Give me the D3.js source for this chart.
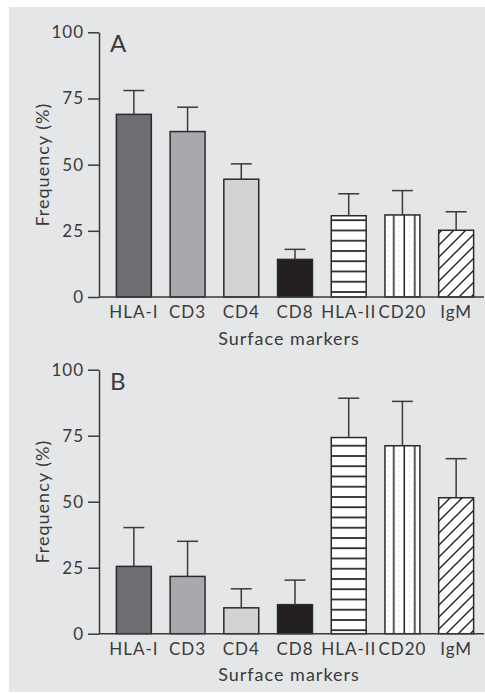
<!DOCTYPE html>
<html>
<head>
<meta charset="utf-8">
<script src="https://cdn.jsdelivr.net/npm/d3@7"></script>
<style>
  html, body { margin: 0; padding: 0; background: #ffffff; }
  svg { display: block; }
  text { font-family: Lato, "Open Sans", sans-serif; fill: #3a3a3a; }
</style>
</head>
<body>
<svg id="chart" width="485" height="694"></svg>
<script>
// Surface marker categories shared by both panels
const markers = ["HLA-I", "CD3", "CD4", "CD8", "HLA-II", "CD20", "IgM"];

// Panel A: mean frequency (%) and upper error value
const meanA = [69, 62.5, 44.5, 14.2, 30.7, 31, 25.2];
const errA  = [78, 71.7, 50.3, 18, 39, 40.2, 32.2];

// Panel B: mean frequency (%) and upper error value
const meanB = [25.5, 21.7, 9.8, 11, 74.3, 71.2, 51.5];
const errB  = [40.2, 35, 17, 20.3, 89.2, 88, 66.3];

const yTicks = [0, 25, 50, 75, 100];
const fills = ["#6d6e71", "#a7a9ac", "#d1d3d4", "#231f20", "url(#hstripe)", "url(#vstripe)", "url(#diag)"];

const svg = d3.select("#chart");

// light gray page panel
svg.append("rect").attr("x", 9).attr("y", 7).attr("width", 476).attr("height", 685).attr("fill", "#e5e6e7");

// fill patterns
const defs = svg.append("defs");
const h = defs.append("pattern").attr("id", "hstripe").attr("patternUnits", "userSpaceOnUse")
  .attr("width", 10).attr("height", 10.25).attr("y", 4);
h.append("rect").attr("width", 10).attr("height", 10.25).attr("fill", "#fff");
h.append("line").attr("x1", 0).attr("x2", 10).attr("y1", 1).attr("y2", 1).attr("stroke", "#2a2a2a").attr("stroke-width", 1.8);

const v = defs.append("pattern").attr("id", "vstripe").attr("patternUnits", "userSpaceOnUse")
  .attr("width", 10.5).attr("height", 10).attr("x", 0.3);
v.append("rect").attr("width", 10.5).attr("height", 10).attr("fill", "#fff");
v.append("line").attr("x1", 5).attr("x2", 5).attr("y1", 0).attr("y2", 10).attr("stroke", "#2a2a2a").attr("stroke-width", 1.6);
v.append("line").attr("x1", 10.2).attr("x2", 10.2).attr("y1", 0).attr("y2", 10).attr("stroke", "#c8c8c8").attr("stroke-width", 0.6).attr("stroke-dasharray", "2,3");

const dg = defs.append("pattern").attr("id", "diag").attr("patternUnits", "userSpaceOnUse")
  .attr("width", 12).attr("height", 12);
dg.append("rect").attr("width", 12).attr("height", 12).attr("fill", "#fff");
dg.append("path").attr("d", "M-3,3 L3,-3 M0,12 L12,0 M9,15 L15,9").attr("stroke", "#2a2a2a").attr("stroke-width", 1.5);

const x = d3.scaleBand().domain(markers).range([107, 483]).paddingInner(0.35).paddingOuter(0.175);

function panel(letter, means, errs, top, bottom) {
  const g = svg.append("g");
  const y = d3.scaleLinear().domain([0, 100]).range([bottom, top]);

  // y axis
  const ya = g.append("g").attr("transform", "translate(99,0)")
    .call(d3.axisLeft(y).tickValues(yTicks).tickSize(11).tickSizeOuter(0).tickPadding(4));
  ya.select(".domain").attr("stroke", "#3a3a3a").attr("stroke-width", 1.5);
  ya.selectAll(".tick line").attr("stroke", "#3a3a3a").attr("stroke-width", 1.5);
  ya.selectAll(".tick text").attr("font-size", 17).attr("font-family", "Lato, sans-serif")
    .attr("fill", "#3a3a3a").attr("letter-spacing", 1);

  // bars
  g.selectAll(".bar").data(markers).enter().append("rect")
    .attr("x", d => x(d))
    .attr("y", (d, i) => y(means[i]))
    .attr("width", x.bandwidth())
    .attr("height", (d, i) => y(0) - y(means[i]))
    .attr("fill", (d, i) => fills[i])
    .attr("stroke", "#2a2a2a").attr("stroke-width", 1.5);

  // upper error bars
  const eb = g.selectAll(".err").data(markers).enter().append("g");
  eb.append("line")
    .attr("x1", d => x(d) + x.bandwidth() / 2).attr("x2", d => x(d) + x.bandwidth() / 2)
    .attr("y1", (d, i) => y(means[i])).attr("y2", (d, i) => y(errs[i]))
    .attr("stroke", "#3a3a3a").attr("stroke-width", 1.5);
  eb.append("line")
    .attr("x1", d => x(d) + x.bandwidth() / 2 - 10.5).attr("x2", d => x(d) + x.bandwidth() / 2 + 10.5)
    .attr("y1", (d, i) => y(errs[i])).attr("y2", (d, i) => y(errs[i]))
    .attr("stroke", "#3a3a3a").attr("stroke-width", 1.5);

  // x axis baseline and category labels
  g.append("line").attr("x1", 99).attr("x2", 484).attr("y1", y(0)).attr("y2", y(0))
    .attr("stroke", "#3a3a3a").attr("stroke-width", 1.5);
  const xa = g.append("g").attr("transform", `translate(0,${y(0)})`)
    .call(d3.axisBottom(x).tickSize(0).tickPadding(8));
  xa.select(".domain").remove();
  xa.selectAll(".tick text").attr("font-size", 17).attr("font-family", "Lato, sans-serif")
    .attr("fill", "#3a3a3a").attr("letter-spacing", 1)
    .attr("dy", null).attr("y", 21).attr("dominant-baseline", "auto");

  g.append("text").attr("x", 289).attr("y", y(0) + 47.5).attr("text-anchor", "middle")
    .attr("font-size", 18).attr("letter-spacing", 1).text("Surface markers");

  g.append("text").attr("transform", `translate(49,${(y(0) + y(100)) / 2}) rotate(-90)`)
    .attr("text-anchor", "middle").attr("font-size", 18).attr("letter-spacing", 1).text("Frequency (%)");

  g.append("text").attr("x", 110).attr("y", y(100) + 20).attr("font-size", 24).text(letter);
}

panel("A", meanA, errA, 32.3, 297);
panel("B", meanB, errB, 369.7, 633.7);
</script>
</body>
</html>
